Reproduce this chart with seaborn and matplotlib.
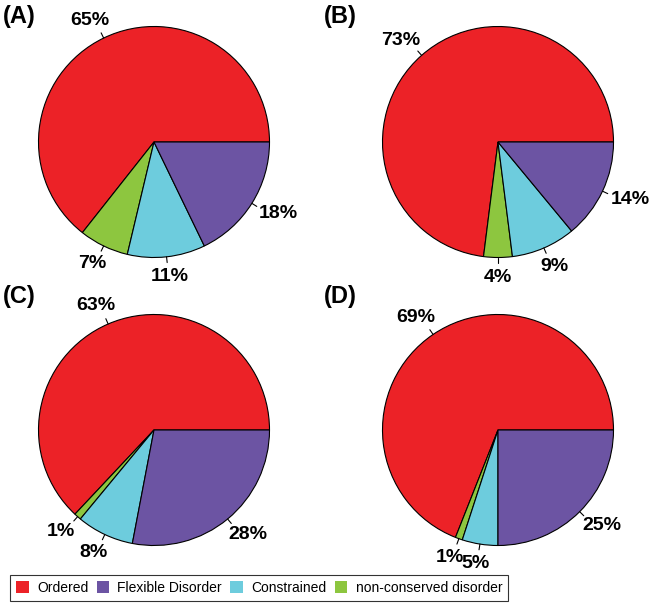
import numpy as np
import matplotlib
matplotlib.use("Agg")
import matplotlib.pyplot as plt
from matplotlib.patches import Patch
from matplotlib import font_manager
import seaborn as sns

# categories and panel values (percent)
categories = ["Ordered", "non-conserved disorder", "Constrained", "Flexible Disorder"]
panels = ["(A)", "(B)", "(C)", "(D)"]
values_a = [65, 7, 11, 18]
values_b = [73, 4, 9, 14]
values_c = [63, 1, 8, 28]
values_d = [69, 1, 5, 25]
all_values = [values_a, values_b, values_c, values_d]

colors = {"Ordered": "#EC2227", "Flexible Disorder": "#6C54A3",
          "Constrained": "#6DCCDD", "non-conserved disorder": "#8DC63F"}
legend_order = ["Ordered", "Flexible Disorder", "Constrained", "non-conserved disorder"]

sns.set_theme(style="white")
plt.rcParams["font.family"] = ["Liberation Sans", "DejaVu Sans"]
plt.rcParams["text.color"] = "black"

names = {f.name for f in font_manager.fontManager.ttflist}
legend_font = "Liberation Sans Narrow" if "Liberation Sans Narrow" in names else "Liberation Sans"
legend_size = 12 if legend_font == "Liberation Sans Narrow" else 10

W, H, DPI = 651, 604, 100
fig = plt.figure(figsize=(W / DPI, H / DPI), dpi=DPI)

R_PX = 115.5
K = 1.5
centers = [(154, 142), (498, 142), (154, 430), (498, 430)]
side = 2 * K * R_PX

annots = []
for vals, (cx, cy), tag in zip(all_values, centers, panels):
    ax = fig.add_axes([(cx - side / 2) / W, 1 - (cy + side / 2) / H, side / W, side / H])
    wedges, _ = ax.pie(vals, colors=[colors[c] for c in categories], startangle=0,
                       counterclock=True, radius=1,
                       wedgeprops=dict(edgecolor="black", linewidth=0.8))
    # pie() resets the limits, so set them afterwards
    ax.set_xlim(-K, K)
    ax.set_ylim(-K, K)
    ax.set_aspect("equal")
    ax.axis("off")
    ax.patch.set_alpha(0)
    for w, v in zip(wedges, vals):
        ang = np.deg2rad((w.theta1 + w.theta2) / 2)
        c, s = np.cos(ang), np.sin(ang)
        ax.plot([c, 1.05 * c], [s, 1.05 * s], color="black", lw=0.8, clip_on=False)
        t = ax.annotate(f"{v}%", xy=(1.1 * c, 1.1 * s), xytext=(0, 0),
                        textcoords="offset points", ha="center", va="center",
                        fontsize=14, fontweight="bold", color="black",
                        annotation_clip=False)
        annots.append((t, c, s))

for tag, (x, y) in zip(panels, [(3, 16), (324, 16), (3, 296), (324, 296)]):
    fig.text(x / W, 1 - y / H, tag, ha="left", va="center", fontsize=17,
             fontweight="bold", color="black")

handles = [Patch(facecolor=colors[c], edgecolor="none") for c in legend_order]
leg = fig.legend(handles, legend_order, loc="lower left", bbox_to_anchor=(10 / W, 1 - 601 / H),
                 ncol=4, frameon=True, fancybox=False, borderaxespad=0,
                 handlelength=0.9, handleheight=0.9, handletextpad=0.6,
                 columnspacing=0.6, borderpad=0.45,
                 prop={"family": legend_font, "size": legend_size})
leg.get_frame().set_edgecolor("black")
leg.get_frame().set_linewidth(0.8)
for txt in leg.get_texts():
    txt.set_color("black")

# push each label outward so its box sits beyond the leader line
fig.canvas.draw()
r = fig.canvas.get_renderer()
for t, c, s in annots:
    bb = t.get_window_extent(r)
    t.xyann = (c * bb.width / 2 * 72 / DPI, s * bb.height / 2 * 72 / DPI)

fig.savefig("out.png", dpi=DPI)
